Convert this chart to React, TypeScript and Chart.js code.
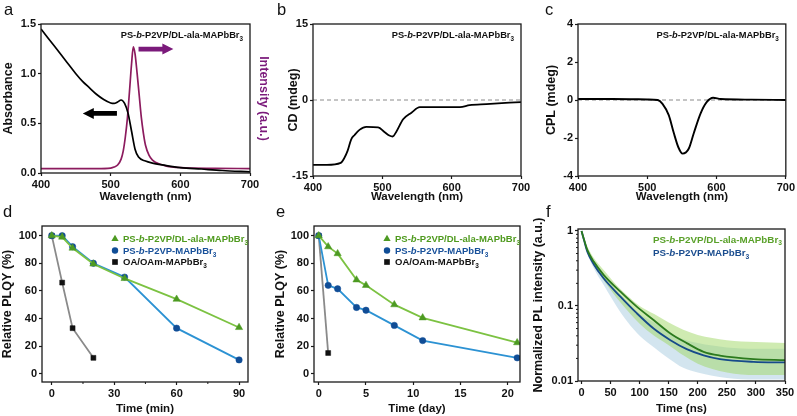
import React, { useEffect, useRef } from 'react';
import { Chart, registerables } from 'chart.js';

Chart.register(...registerables);

const FONT = "'Liberation Sans', Arial, Helvetica, sans-serif";
Chart.defaults.font.family = FONT;

// ---------------- Panel a : absorbance + PL ----------------
const absWavelength = [400, 410, 420, 430, 440, 450, 460, 470, 480, 490, 500, 505, 510, 515, 520, 525, 530, 535, 540, 550, 560, 580, 600, 630, 660, 700];
const absorbance = [1.45, 1.36, 1.27, 1.18, 1.09, 1.0, 0.92, 0.855, 0.79, 0.74, 0.705, 0.7, 0.715, 0.735, 0.7, 0.6, 0.42, 0.24, 0.16, 0.12, 0.1, 0.075, 0.055, 0.04, 0.025, 0.012];
const plWavelength = [400, 480, 500, 505, 510, 515, 518, 521, 524, 527, 530, 532.5, 535, 538, 541, 544, 547, 550, 555, 560, 570, 580, 600, 650, 700];
const plIntensity = [0.045, 0.045, 0.05, 0.06, 0.08, 0.14, 0.22, 0.36, 0.55, 0.82, 1.1, 1.27, 1.2, 1.0, 0.78, 0.56, 0.4, 0.28, 0.18, 0.13, 0.09, 0.07, 0.055, 0.047, 0.045];
const absArrow = { from: [509, 0.6], to: [460, 0.6] };
const plArrow = { from: [540, 1.248], to: [590, 1.248] };

// ---------------- Panel b : CD ----------------
const cdWavelength = [400, 420, 440, 445, 450, 455, 460, 467, 477, 494, 503, 510, 515, 520, 530, 542, 554, 600, 612, 626, 650, 700];
const cdValue = [-12.8, -12.8, -12.4, -11.5, -10.0, -7.8, -6.9, -5.9, -5.3, -5.4, -6.3, -7.0, -7.2, -6.3, -3.8, -2.5, -1.4, -1.4, -1.4, -1.0, -0.8, -0.4];

// ---------------- Panel c : CPL ----------------
const cplWavelength = [400, 450, 500, 515, 522, 531, 538, 545, 551, 560, 567, 577, 586, 595, 606, 650, 700];
const cplValue = [0.05, 0.05, 0.03, 0.0, -0.2, -0.8, -1.7, -2.5, -2.82, -2.55, -1.76, -0.7, -0.1, 0.12, 0.05, 0.02, 0.0];

// ---------------- Panel d : PLQY vs time (min) ----------------
const dTime = [0, 5, 10, 20, 35, 60, 90];
const dAla = [100, 99, 91, 79.5, 69, 54, 33.5];
const dP2vp = [100, 100, 92, 80, 70, 33, 10];
const dOaTime = [0, 5, 10, 20];
const dOa = [100, 66, 33, 11.5];

// ---------------- Panel e : PLQY vs time (day) ----------------
const eDays = [0, 1, 2, 4, 5, 8, 11, 21];
const eAla = [100, 92, 87, 68, 64, 50, 40.5, 22.5];
const eP2vp = [100, 64, 61.5, 48, 46, 35, 24, 11.5];
const eOaDays = [0, 1];
const eOa = [100, 15];

// ---------------- Panel f : PL decay ----------------
const fitTime = [0, 5, 10, 21, 38, 67, 95, 124, 153, 181, 210, 238, 296, 350];
const fitAla = [1, 0.74, 0.56, 0.39, 0.26, 0.155, 0.098, 0.065, 0.043, 0.032, 0.0245, 0.0218, 0.0196, 0.019];
const fitP2vp = [1, 0.72, 0.53, 0.36, 0.234, 0.133, 0.08, 0.05, 0.035, 0.0266, 0.022, 0.0196, 0.018, 0.0177];
const cloudTime = [0, 10, 20, 40, 60, 80, 100, 125, 150, 175, 200, 250, 300, 350];
const cloudAlaHigh = [1.0, 0.62, 0.45, 0.29, 0.19, 0.135, 0.1, 0.078, 0.06, 0.048, 0.041, 0.035, 0.033, 0.032];
const cloudAlaLow = [1.0, 0.52, 0.36, 0.21, 0.13, 0.085, 0.058, 0.04, 0.03, 0.022, 0.017, 0.013, 0.012, 0.012];
const cloudP2vpHigh = [1.0, 0.6, 0.42, 0.26, 0.16, 0.11, 0.078, 0.06, 0.045, 0.036, 0.032, 0.028, 0.027, 0.027];
const cloudP2vpLow = [1.0, 0.5, 0.33, 0.18, 0.1, 0.06, 0.04, 0.028, 0.02, 0.015, 0.013, 0.011, 0.0105, 0.0105];

// ---------------- tick labels ----------------
const waveTicks = [400, 500, 600, 700];
const absTicks = [0, 0.5, 1.0, 1.5];
const cdTicks = [-15, 0, 15];
const cplTicks = [-4, -2, 0, 2, 4];
const plqyTicks = [0, 20, 40, 60, 80, 100];
const minTicks = [0, 30, 60, 90];
const minMinorTicks = [15, 45, 75];
const dayTicks = [0, 5, 10, 15, 20];
const nsTicks = [0, 50, 100, 150, 200, 250, 300, 350];
const logTicks = [0.01, 0.1, 1];
const logMinorTicks = [0.02, 0.03, 0.04, 0.05, 0.06, 0.07, 0.08, 0.09, 0.2, 0.3, 0.4, 0.5, 0.6, 0.7, 0.8, 0.9];

// ---------------- text ----------------
type Part = { t: string; i?: boolean; sub?: boolean };
const SAMPLE_ALA: Part[] = [{ t: 'PS-' }, { t: 'b', i: true }, { t: '-P2VP/DL-ala-MAPbBr' }, { t: '3', sub: true }];
const SAMPLE_P2VP: Part[] = [{ t: 'PS-' }, { t: 'b', i: true }, { t: '-P2VP-MAPbBr' }, { t: '3', sub: true }];
const SAMPLE_OA: Part[] = [{ t: 'OA/OAm-MAPbBr' }, { t: '3', sub: true }];

// ---------------- colours ----------------
const GREEN_LINE = '#7cc242';
const GREEN_MARK = '#4d9a22';
const GREEN_TEXT = '#4f9a1e';
const BLUE_LINE = '#2c92d3';
const BLUE_MARK = '#104d96';
const BLUE_TEXT = '#17509a';
const GRAY_LINE = '#8a8a8a';
const PURPLE = '#7b1a7b';
const PL_LINE = '#8c1b5e';

// ---------------- geometry ----------------
type Geom = { cl: number; ct: number; cr: number; cb: number; L: number; T: number; R: number; B: number };
const GA: Geom = { cl: 1, ct: 0, cr: 271, cb: 204, L: 41, T: 24, R: 250, B: 173 };
const GB: Geom = { cl: 286, ct: 0, cr: 536, cb: 204, L: 313, T: 24, R: 521, B: 176 };
const GC: Geom = { cl: 544, ct: 0, cr: 797, cb: 204, L: 578, T: 24, R: 786, B: 176 };
const GD: Geom = { cl: 0, ct: 208, cr: 262, cb: 416, L: 42, T: 226, R: 248, B: 382 };
const GE: Geom = { cl: 273, ct: 208, cr: 530, cb: 416, L: 314, T: 226, R: 520, B: 382 };
const GF: Geom = { cl: 531, ct: 208, cr: 797, cb: 416, L: 578, T: 229, R: 785, B: 381 };

const TICK_FONT = { family: FONT, size: 11, weight: 'bold' as const };
const XTITLE_FONT = { family: FONT, size: 11.5, weight: 'bold' as const };
const YTITLE_FONT = { family: FONT, size: 12.5, weight: 'bold' as const };

function gridOpts() {
  return { display: true, drawOnChartArea: false, drawTicks: true, tickLength: 3, tickColor: '#1a1a1a', tickWidth: 1.2 };
}

function xScale(g: Geom, min: number, max: number, ticks: number[], title: string, fmt: (v: number) => string) {
  return {
    type: 'linear', position: 'bottom', min, max,
    afterBuildTicks: (s: any) => { s.ticks = ticks.map((v) => ({ value: v })); },
    afterFit: (s: any) => { s.height = g.cb - g.B; },
    ticks: { font: TICK_FONT, color: '#111', padding: 2, autoSkip: false, maxRotation: 0, callback: (v: any) => fmt(Number(v)) },
    grid: gridOpts(),
    border: { display: false },
    title: { display: true, text: title, font: XTITLE_FONT, color: '#111', padding: 0 },
  };
}

function yScale(g: Geom, min: number, max: number, ticks: number[], title: string, fmt: (v: number) => string, type = 'linear') {
  return {
    type, position: 'left', min, max,
    afterBuildTicks: (s: any) => { s.ticks = ticks.map((v) => ({ value: v })); },
    afterFit: (s: any) => { s.width = g.L - g.cl; },
    ticks: { font: TICK_FONT, color: '#111', padding: 2, autoSkip: false, callback: (v: any) => fmt(Number(v)) },
    grid: gridOpts(),
    border: { display: false },
    title: { display: true, text: title, font: YTITLE_FONT, color: '#111', padding: 0 },
  };
}

function baseOptions(g: Geom, scales: any, rightAxis = false) {
  return {
    responsive: false,
    maintainAspectRatio: false,
    animation: false,
    events: [],
    layout: { padding: { top: g.T - g.ct, right: rightAxis ? 0 : g.cr - g.R, left: 0, bottom: 0 } },
    plugins: { legend: { display: false }, tooltip: { enabled: false } },
    scales,
  };
}

function pts(xs: number[], ys: number[]) {
  return xs.map((x, i) => ({ x, y: ys[i] }));
}

function curve(xs: number[], ys: number[], color: string, width = 1.8, extra: any = {}) {
  return { data: pts(xs, ys), borderColor: color, borderWidth: width, pointRadius: 0, cubicInterpolationMode: 'monotone', fill: false, ...extra };
}

function markedLine(xs: number[], ys: number[], line: string, mark: string, style: string, r: number) {
  return {
    data: pts(xs, ys), borderColor: line, borderWidth: 1.8, fill: false, tension: 0,
    pointStyle: style, pointRadius: r, pointBackgroundColor: mark, pointBorderColor: mark, pointBorderWidth: 0.5,
  };
}

// ---------------- drawing helpers ----------------
function drawRich(ctx: CanvasRenderingContext2D, x: number, y: number, parts: Part[], size: number, color: string, align: 'left' | 'right' = 'left') {
  ctx.save();
  ctx.fillStyle = color;
  ctx.textBaseline = 'alphabetic';
  ctx.textAlign = 'left';
  const segs = parts.map((p) => {
    const fs = p.sub ? size * 0.68 : size;
    const font = `${p.i ? 'italic ' : ''}bold ${fs}px ${FONT}`;
    ctx.font = font;
    return { p, font, w: ctx.measureText(p.t).width };
  });
  const total = segs.reduce((s, a) => s + a.w, 0);
  let cx = align === 'right' ? x - total : x;
  const base = y + size * 0.36;
  for (const s of segs) {
    ctx.font = s.font;
    ctx.fillText(s.p.t, cx, base + (s.p.sub ? size * 0.28 : 0));
    cx += s.w;
  }
  ctx.restore();
}

function drawMarker(ctx: CanvasRenderingContext2D, kind: string, x: number, y: number, r: number, color: string) {
  ctx.save();
  ctx.fillStyle = color;
  ctx.beginPath();
  if (kind === 'triangle') {
    ctx.moveTo(x, y - r);
    ctx.lineTo(x + r * 0.866, y + r * 0.5);
    ctx.lineTo(x - r * 0.866, y + r * 0.5);
    ctx.closePath();
  } else if (kind === 'circle') {
    ctx.arc(x, y, r, 0, Math.PI * 2);
  } else {
    ctx.rect(x - r * 0.707, y - r * 0.707, r * 1.414, r * 1.414);
  }
  ctx.fill();
  ctx.restore();
}

function drawArrow(chart: any, from: number[], to: number[], color: string, yId = 'y') {
  const { ctx, scales } = chart;
  const x1 = scales.x.getPixelForValue(from[0]);
  const y1 = scales[yId].getPixelForValue(from[1]);
  const x2 = scales.x.getPixelForValue(to[0]);
  const dir = Math.sign(x2 - x1);
  const headLen = 11;
  const sw = 2.4;
  const hw = 5.5;
  const xb = x2 - dir * headLen;
  ctx.save();
  ctx.fillStyle = color;
  ctx.beginPath();
  ctx.moveTo(x1, y1 - sw);
  ctx.lineTo(xb, y1 - sw);
  ctx.lineTo(xb, y1 - hw);
  ctx.lineTo(x2, y1);
  ctx.lineTo(xb, y1 + hw);
  ctx.lineTo(xb, y1 + sw);
  ctx.lineTo(x1, y1 + sw);
  ctx.closePath();
  ctx.fill();
  ctx.restore();
}

function drawMinor(chart: any, axis: string, values: number[]) {
  const { ctx, chartArea: a } = chart;
  const s = chart.scales[axis];
  ctx.save();
  ctx.strokeStyle = '#1a1a1a';
  ctx.lineWidth = 1;
  ctx.beginPath();
  for (const v of values) {
    const p = s.getPixelForValue(v);
    if (axis === 'x') {
      ctx.moveTo(p, a.bottom);
      ctx.lineTo(p, a.bottom + 2);
    } else {
      ctx.moveTo(a.left, p);
      ctx.lineTo(a.left - 2, p);
    }
  }
  ctx.stroke();
  ctx.restore();
}

const framePlugin = {
  id: 'frame',
  afterDatasetsDraw(chart: any) {
    const { ctx, chartArea: a } = chart;
    ctx.save();
    ctx.strokeStyle = '#1a1a1a';
    ctx.lineWidth = 1.3;
    ctx.strokeRect(a.left, a.top, a.right - a.left, a.bottom - a.top);
    ctx.restore();
  },
};

function extras(fn: (chart: any) => void) {
  return { id: 'extras', afterDraw: fn };
}

function sampleTag(chart: any) {
  const a = chart.chartArea;
  drawRich(chart.ctx, a.right - 7, a.top + 11, SAMPLE_ALA, 9.3, '#111', 'right');
}

function plqyLegend(chart: any) {
  const { ctx, chartArea: a } = chart;
  const x = a.left + 73;
  const items = [
    { parts: SAMPLE_ALA, color: GREEN_TEXT, mark: GREEN_MARK, kind: 'triangle', r: 4.2 },
    { parts: SAMPLE_P2VP, color: BLUE_TEXT, mark: BLUE_MARK, kind: 'circle', r: 3.2 },
    { parts: SAMPLE_OA, color: '#111', mark: '#111', kind: 'rect', r: 4 },
  ];
  items.forEach((it, i) => {
    const y = a.top + 13 + i * 11.5;
    drawMarker(ctx, it.kind, x, y, it.r, it.mark);
    drawRich(ctx, x + 8, y, it.parts, 9.5, it.color);
  });
}

const fmt1 = (v: number) => v.toFixed(1);
const fmt0 = (v: number) => String(v);

// ---------------- chart configs ----------------
function configA() {
  return {
    type: 'line',
    data: {
      datasets: [
        { ...curve(absWavelength, absorbance, '#000', 1.7), yAxisID: 'y' },
        { ...curve(plWavelength, plIntensity, PL_LINE, 1.7), yAxisID: 'y2' },
      ],
    },
    options: baseOptions(GA, {
      x: xScale(GA, 400, 700, waveTicks, 'Wavelength (nm)', fmt0),
      y: yScale(GA, 0, 1.5, absTicks, 'Absorbance', fmt1),
      y2: {
        type: 'linear', position: 'right', min: 0, max: 1.5,
        afterFit: (s: any) => { s.width = GA.cr - GA.R; },
        ticks: { display: false },
        grid: { display: false },
        border: { display: false },
        title: { display: true, text: 'Intensity (a.u.)', font: YTITLE_FONT, color: PURPLE, padding: 0 },
      },
    }, true),
    plugins: [framePlugin, extras((chart: any) => {
      sampleTag(chart);
      drawArrow(chart, absArrow.from, absArrow.to, '#000');
      drawArrow(chart, plArrow.from, plArrow.to, PURPLE);
    })],
  };
}

function configB() {
  return {
    type: 'line',
    data: {
      datasets: [
        { ...curve(cdWavelength, cdValue, '#000', 1.8) },
        { ...curve([400, 700], [0, 0], '#8a8a8a', 1, { borderDash: [4, 3] }) },
      ],
    },
    options: baseOptions(GB, {
      x: xScale(GB, 400, 700, waveTicks, 'Wavelength (nm)', fmt0),
      y: yScale(GB, -15, 15, cdTicks, 'CD (mdeg)', fmt0),
    }),
    plugins: [framePlugin, extras(sampleTag)],
  };
}

function configC() {
  return {
    type: 'line',
    data: {
      datasets: [
        { ...curve(cplWavelength, cplValue, '#000', 1.9) },
        { ...curve([400, 700], [0, 0], '#8a8a8a', 1, { borderDash: [4, 3] }) },
      ],
    },
    options: baseOptions(GC, {
      x: xScale(GC, 400, 700, waveTicks, 'Wavelength (nm)', fmt0),
      y: yScale(GC, -4, 4, cplTicks, 'CPL (mdeg)', fmt0),
    }),
    plugins: [framePlugin, extras(sampleTag)],
  };
}

function configD() {
  return {
    type: 'line',
    data: {
      datasets: [
        markedLine(dTime, dAla, GREEN_LINE, GREEN_MARK, 'triangle', 4.2),
        markedLine(dTime, dP2vp, BLUE_LINE, BLUE_MARK, 'circle', 3.2),
        markedLine(dOaTime, dOa, GRAY_LINE, '#111', 'rect', 3.5),
      ],
    },
    options: baseOptions(GD, {
      x: xScale(GD, -4.7, 94.3, minTicks, 'Time (min)', fmt0),
      y: yScale(GD, -6, 107, plqyTicks, 'Relative PLQY (%)', fmt0),
    }),
    plugins: [framePlugin, extras((chart: any) => {
      drawMinor(chart, 'x', minMinorTicks);
      plqyLegend(chart);
    })],
  };
}

function configE() {
  return {
    type: 'line',
    data: {
      datasets: [
        markedLine(eDays, eAla, GREEN_LINE, GREEN_MARK, 'triangle', 4.2),
        markedLine(eDays, eP2vp, BLUE_LINE, BLUE_MARK, 'circle', 3.2),
        markedLine(eOaDays, eOa, GRAY_LINE, '#111', 'rect', 3.5),
      ],
    },
    options: baseOptions(GE, {
      x: xScale(GE, -0.5, 21.3, dayTicks, 'Time (day)', fmt0),
      y: yScale(GE, -6, 107, plqyTicks, 'Relative PLQY (%)', fmt0),
    }),
    plugins: [framePlugin, extras(plqyLegend)],
  };
}

function configF() {
  return {
    type: 'line',
    data: {
      datasets: [
        curve(fitTime, fitAla, '#2b7a1e', 1.8),
        curve(fitTime, fitP2vp, '#164a8a', 1.8),
        curve(cloudTime, cloudAlaHigh, 'rgba(0,0,0,0)', 0, { fill: '+1', backgroundColor: 'rgba(160,215,100,0.5)' }),
        curve(cloudTime, cloudAlaLow, 'rgba(0,0,0,0)', 0),
        curve(cloudTime, cloudP2vpHigh, 'rgba(0,0,0,0)', 0, { fill: '+1', backgroundColor: 'rgba(120,175,205,0.33)' }),
        curve(cloudTime, cloudP2vpLow, 'rgba(0,0,0,0)', 0),
      ],
    },
    options: baseOptions(GF, {
      x: xScale(GF, -6, 350, nsTicks, 'Time (ns)', fmt0),
      y: yScale(GF, 0.01, 1.06, logTicks, 'Normalized PL intensity (a.u.)', fmt0, 'logarithmic'),
    }),
    plugins: [framePlugin, extras((chart: any) => {
      drawMinor(chart, 'y', logMinorTicks);
      const a = chart.chartArea;
      drawRich(chart.ctx, a.left + 75, a.top + 10, SAMPLE_ALA, 9.8, '#5aa12a');
      drawRich(chart.ctx, a.left + 75, a.top + 23.5, SAMPLE_P2VP, 9.8, '#1b4d8f');
    })],
  };
}

// ---------------- components ----------------
function ChartBox({ g, make }: { g: Geom; make: () => any }) {
  const ref = useRef<HTMLCanvasElement>(null);
  useEffect(() => {
    const chart = new Chart(ref.current as HTMLCanvasElement, make());
    return () => chart.destroy();
  }, []);
  const w = g.cr - g.cl;
  const h = g.cb - g.ct;
  return (
    <canvas
      ref={ref}
      width={w}
      height={h}
      style={{ position: 'absolute', left: g.cl, top: g.ct, width: w, height: h, display: 'block' }}
    />
  );
}

const panelLabels = [
  { t: 'a', x: 4, base: 15 },
  { t: 'b', x: 277, base: 15 },
  { t: 'c', x: 545, base: 15 },
  { t: 'd', x: 3, base: 217 },
  { t: 'e', x: 276, base: 217 },
  { t: 'f', x: 546, base: 217 },
];

export default function App() {
  return (
    <div style={{ position: 'absolute', left: 0, top: 0, width: 797, height: 416, background: '#fff', overflow: 'hidden' }}>
      <ChartBox g={GA} make={configA} />
      <ChartBox g={GB} make={configB} />
      <ChartBox g={GC} make={configC} />
      <ChartBox g={GD} make={configD} />
      <ChartBox g={GE} make={configE} />
      <ChartBox g={GF} make={configF} />
      {panelLabels.map((l) => (
        <div
          key={l.t}
          style={{ position: 'absolute', left: l.x, top: l.base - 14, fontFamily: FONT, fontSize: 16.5, lineHeight: '16.5px', color: '#111' }}
        >
          {l.t}
        </div>
      ))}
    </div>
  );
}
